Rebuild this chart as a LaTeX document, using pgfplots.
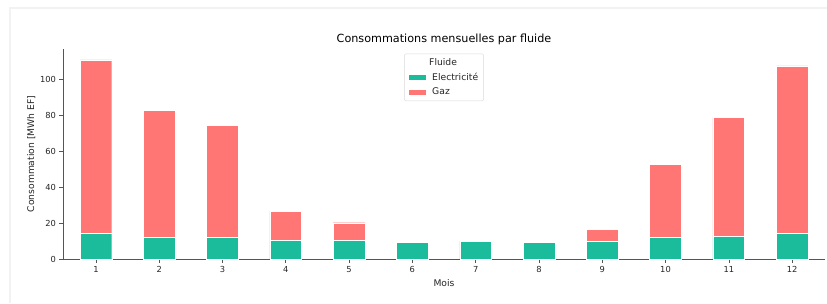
\documentclass[border=0pt]{standalone}
\usepackage{pgfplots}
\pgfplotsset{compat=1.18}
\usepackage{fontspec}
\setmainfont{DejaVu Sans}
\definecolor{elec}{HTML}{1ABC9C}
\definecolor{gaz}{HTML}{FF7675}
\definecolor{spine}{HTML}{555555}
\begin{document}
\begin{tikzpicture}
\path[use as bounding box, fill=white] (-63pt,-44pt) rectangle (764pt,259pt);
\draw[black!5, line width=1.5pt] (-53pt,-44pt) -- (-53pt,251pt) -- (764pt,251pt);
\begin{axis}[
  scale only axis,
  width=762pt, height=210pt,
  xmin=0.48, xmax=12.52,
  ymin=0, ymax=117,
  ybar stacked,
  bar width=0.5,
  axis x line*=bottom,
  axis y line*=left,
  axis line style={spine, line width=0.6pt},
  tick style={spine, line width=0.6pt},
  tick align=outside,
  major tick length=3.5pt,
  xtick={1,...,12},
  ytick={0,20,40,60,80,100},
  ticklabel style={font=\fontsize{8.3}{9}\selectfont, text=black!85},
  /pgf/number format/assume math mode=true,
  xlabel={Mois},
  ylabel={Consommation [MWh EF]},
  label style={font=\fontsize{9.2}{10}\selectfont, text=black!85},
  xlabel style={yshift=0pt},
  ylabel style={yshift=-2pt},
  title={Consommations mensuelles par fluide},
  title style={font=\fontsize{11.2}{12}\selectfont, yshift=-5pt},
  legend style={at={(0.5,0.978)}, anchor=north, draw=black!15, rounded corners=2pt,
    font=\fontsize{9.2}{10}\selectfont, inner xsep=3.5pt, inner ysep=2.5pt, row sep=2.2pt, text=black!85},
  legend cell align=left,
  legend image code/.code={\fill[#1, sharp corners] (0pt,-2.6pt) rectangle (18pt,3pt); \path (22pt,0pt);},
  every axis plot/.append style={draw=white, line width=0.4pt},
]
\addlegendimage{empty legend}
\addlegendentry{\makebox[0pt][l]{\hspace{-3pt}Fluide}}
\addplot[fill=elec] coordinates {(1,14.1) (2,12.2) (3,12.2) (4,10.3) (5,10.2) (6,9.2) (7,9.8) (8,9.2) (9,10.0) (10,11.9) (11,12.6) (12,14.1)};
\addlegendentry{Electricité}
\addplot[fill=gaz] coordinates {(1,96.8) (2,70.8) (3,62.3) (4,16.4) (5,10.0) (6,0) (7,0) (8,0) (9,6.7) (10,40.7) (11,66.3) (12,93.5)};
\addlegendentry{Gaz}
\end{axis}
\end{tikzpicture}
\end{document}
